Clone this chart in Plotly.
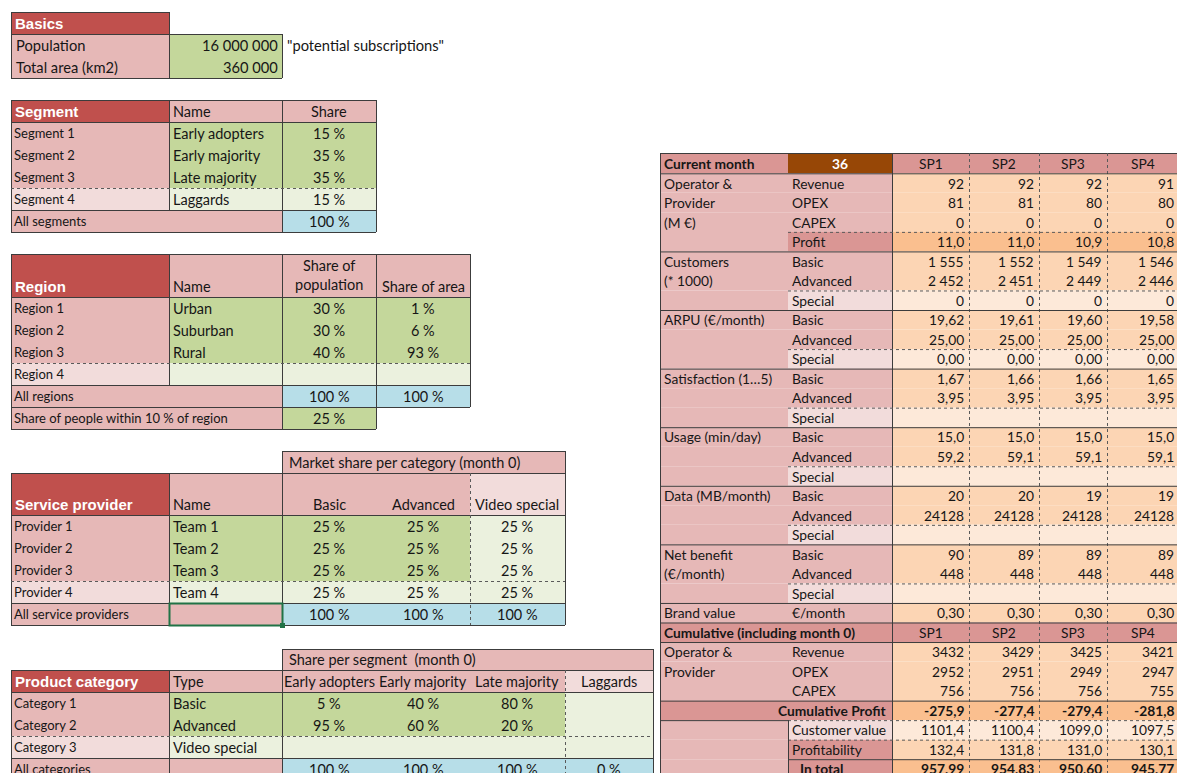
import plotly.graph_objects as go

# ---------------- DATA ----------------
basics_labels = ["Population", "Total area (km2)"]
basics_values = [16000000, 360000]
basics_note = '"potential subscriptions"'

segment_ids = ["Segment 1", "Segment 2", "Segment 3", "Segment 4"]
segment_names = ["Early adopters", "Early majority", "Late majority", "Laggards"]
segment_share = [15, 35, 35, 15]

region_ids = ["Region 1", "Region 2", "Region 3", "Region 4"]
region_names = ["Urban", "Suburban", "Rural", ""]
region_pop_share = [30, 30, 40, None]
region_area_share = [1, 6, 93, None]
share_within_10pct = 25

provider_ids = ["Provider 1", "Provider 2", "Provider 3", "Provider 4"]
provider_names = ["Team 1", "Team 2", "Team 3", "Team 4"]
ms_basic = [25, 25, 25, 25]
ms_advanced = [25, 25, 25, 25]
ms_video = [25, 25, 25, 25]
market_categories = ["Basic", "Advanced", "Video special"]

category_ids = ["Category 1", "Category 2", "Category 3"]
category_types = ["Basic", "Advanced", "Video special"]
share_early_adopters = [5, 95, None]
share_early_majority = [40, 60, None]
share_late_majority = [80, 20, None]
share_laggards = [None, None, None]

current_month = 36
sp_names = ["SP1", "SP2", "SP3", "SP4"]
revenue = [92, 92, 92, 91]
opex = [81, 81, 80, 80]
capex = [0, 0, 0, 0]
profit = [11.0, 11.0, 10.9, 10.8]
customers_basic = [1555, 1552, 1549, 1546]
customers_advanced = [2452, 2451, 2449, 2446]
customers_special = [0, 0, 0, 0]
arpu_basic = [19.62, 19.61, 19.60, 19.58]
arpu_advanced = [25.00, 25.00, 25.00, 25.00]
arpu_special = [0.00, 0.00, 0.00, 0.00]
satisfaction_basic = [1.67, 1.66, 1.66, 1.65]
satisfaction_advanced = [3.95, 3.95, 3.95, 3.95]
usage_basic = [15.0, 15.0, 15.0, 15.0]
usage_advanced = [59.2, 59.1, 59.1, 59.1]
data_basic = [20, 20, 19, 19]
data_advanced = [24128, 24128, 24128, 24128]
netbenefit_basic = [90, 89, 89, 89]
netbenefit_advanced = [448, 448, 448, 448]
brand_value = [0.30, 0.30, 0.30, 0.30]
cum_revenue = [3432, 3429, 3425, 3421]
cum_opex = [2952, 2951, 2949, 2947]
cum_capex = [756, 756, 756, 755]
cum_profit = [-275.9, -277.4, -279.4, -281.8]
customer_value = [1101.4, 1100.4, 1099.0, 1097.5]
profitability = [132.4, 131.8, 131.0, 130.1]
in_total = [957.99, 954.83, 950.60, 945.77]

# ---------------- STYLE ----------------
W, H = 1177, 773
FONT = "Lato"
HFONT = "Liberation Sans"
TXT = "#161616"
DARKRED = "#C0504D"
PINK = "#E6B8B7"
DPINK = "#DA9694"
LPINK = "#F2DCDB"
GREEN = "#C4D79B"
LGREEN = "#EBF1DE"
BLUE = "#B7DEE8"
PEACH = "#FCD5B4"
DPEACH = "#FABF8F"
LPEACH = "#FDE9D9"
BROWN = "#974706"
BORDER = "#3c3c3c"
DOT = "#5a5a5a"

shapes = []
anns = []


def rect(x0, y0, x1, y1, fill):
    shapes.append(dict(type="rect", xref="x", yref="y", x0=x0, y0=y0, x1=x1, y1=y1,
                       fillcolor=fill, line=dict(width=0), layer="below"))


def hl(x0, x1, y, dash="solid", color=None, w=1):
    shapes.append(dict(type="line", xref="x", yref="y", x0=x0, x1=x1, y0=y + 0.5, y1=y + 0.5,
                       line=dict(color=color or (BORDER if dash == "solid" else DOT), width=w, dash=dash)))


def vl(x, y0, y1, dash="solid", color=None, w=1):
    shapes.append(dict(type="line", xref="x", yref="y", x0=x + 0.5, x1=x + 0.5, y0=y0, y1=y1,
                       line=dict(color=color or (BORDER if dash == "solid" else DOT), width=w, dash=dash)))


def box(x0, y0, x1, y1):
    hl(x0, x1, y0)
    hl(x0, x1, y1)
    vl(x0, y0, y1)
    vl(x1, y0, y1)


def txt(x, y, s, align="left", size=13, bold=False, color=TXT, yanchor="middle", family=FONT):
    if s is None or s == "":
        return
    if bold:
        s = "<b>" + s + "</b>"
    anns.append(dict(x=x, y=y, xref="x", yref="y", text=s, showarrow=False,
                     xanchor=align, yanchor=yanchor, align=align,
                     font=dict(family=family, size=size, color=color)))


def head(x, y, s):
    txt(x, y, s, size=15, bold=True, color="white", family=HFONT)


def num(v, dec=0, sep=True):
    if v is None:
        return ""
    s = f"{abs(v):,.{dec}f}" if sep else f"{abs(v):.{dec}f}"
    s = s.replace(",", " ").replace(".", ",")
    return ("-" if v < 0 else "") + s


def pct(v):
    return "" if v is None else f"{v} %"


LS = 13      # small label font
NS = 14.5    # name/value font
BS = 14.7    # basics font

# ---------------- BASICS ----------------
rect(11, 12, 169, 34, DARKRED)
rect(11, 34, 169, 78, PINK)
rect(169, 34, 282, 78, GREEN)
box(11, 12, 169, 34)
box(11, 34, 282, 78)
vl(169, 34, 78)
head(13, 23, "Basics")
for i, (lab, val) in enumerate(zip(basics_labels, basics_values)):
    yc = 45 + 22 * i
    txt(14, yc, lab, size=BS)
    txt(280, yc, num(val), align="right", size=BS)
txt(285, 45, basics_note, size=BS)

# ---------------- SEGMENT ----------------
rect(11, 100, 169, 122, DARKRED)
rect(169, 100, 376, 122, PINK)
rect(11, 122, 169, 188, PINK)
rect(169, 122, 376, 188, GREEN)
rect(11, 188, 169, 210, LPINK)
rect(169, 188, 376, 210, LGREEN)
rect(11, 210, 282, 232, PINK)
rect(282, 210, 376, 232, BLUE)
box(11, 100, 376, 232)
hl(11, 376, 122)
vl(169, 100, 210)
vl(282, 100, 232)
hl(11, 376, 188, dash="dot")
hl(11, 376, 210)
head(13, 111, "Segment")
txt(171, 111, "Name", size=NS)
txt(329, 111, "Share", align="center", size=NS)
for i in range(4):
    yc = 133 + 22 * i
    txt(12, yc, segment_ids[i], size=LS)
    txt(171, yc, segment_names[i], size=NS)
    txt(329, yc, pct(segment_share[i]), align="center", size=NS)
txt(12, 221, "All segments", size=LS)
txt(329, 221, pct(sum(segment_share)), align="center", size=NS)

# ---------------- REGION ----------------
rect(11, 254, 169, 297, DARKRED)
rect(169, 254, 470, 297, PINK)
rect(11, 297, 169, 363, PINK)
rect(169, 297, 470, 363, GREEN)
rect(11, 363, 169, 385, LPINK)
rect(169, 363, 470, 385, LGREEN)
rect(11, 385, 282, 407, PINK)
rect(282, 385, 470, 407, BLUE)
rect(11, 407, 282, 429, PINK)
rect(282, 407, 376, 429, GREEN)
box(11, 254, 470, 407)
hl(11, 470, 297)
vl(169, 254, 385)
vl(282, 254, 429)
vl(376, 254, 407)
hl(11, 470, 363, dash="dot")
hl(11, 470, 385)
box(11, 407, 376, 429)
head(13, 286, "Region")
txt(171, 286, "Name", size=NS)
txt(329, 275, "Share of<br>population", align="center", size=NS)
txt(423, 286, "Share of area", align="center", size=NS)
for i in range(4):
    yc = 308 + 22 * i
    txt(12, yc, region_ids[i], size=LS)
    txt(171, yc, region_names[i], size=NS)
    txt(329, yc, pct(region_pop_share[i]), align="center", size=NS)
    txt(423, yc, pct(region_area_share[i]), align="center", size=NS)
txt(12, 396, "All regions", size=LS)
txt(329, 396, pct(sum(v for v in region_pop_share if v)), align="center", size=NS)
txt(423, 396, pct(sum(v for v in region_area_share if v)), align="center", size=NS)
txt(12, 418, "Share of people within 10 % of region", size=LS)
txt(329, 418, pct(share_within_10pct), align="center", size=NS)

# ---------------- SERVICE PROVIDER ----------------
rect(282, 451, 565, 473, PINK)
rect(11, 473, 169, 515, DARKRED)
rect(169, 473, 470, 515, PINK)
rect(470, 473, 565, 515, LPINK)
rect(11, 515, 169, 581, PINK)
rect(169, 515, 470, 581, GREEN)
rect(470, 515, 565, 581, LGREEN)
rect(11, 581, 169, 603, LPINK)
rect(169, 581, 565, 603, LGREEN)
rect(11, 603, 282, 625, PINK)
rect(282, 603, 565, 625, BLUE)
hl(282, 565, 451)
vl(565, 451, 473)
box(11, 473, 565, 625)
hl(11, 565, 515)
vl(169, 473, 625)
vl(282, 451, 625)
vl(470, 473, 625, dash="dot")
hl(11, 565, 581, dash="dot")
hl(11, 565, 603)
shapes.append(dict(type="rect", xref="x", yref="y", x0=169.5, y0=603.5, x1=282.5, y1=625.5,
                   fillcolor="rgba(0,0,0,0)", line=dict(color="#217346", width=2)))
shapes.append(dict(type="rect", xref="x", yref="y", x0=280, y0=623, x1=285, y1=628,
                   fillcolor="#217346", line=dict(width=0)))
txt(287, 462, "Market share per category (month 0)", size=NS)
head(13, 504, "Service provider")
txt(171, 504, "Name", size=NS)
for cx, c in zip([329, 423, 517], market_categories):
    txt(cx, 504, c, align="center", size=NS)
ms_cols = [ms_basic, ms_advanced, ms_video]
for i in range(4):
    yc = 526 + 22 * i
    txt(12, yc, provider_ids[i], size=LS)
    txt(171, yc, provider_names[i], size=NS)
    for cx, col in zip([329, 423, 517], ms_cols):
        txt(cx, yc, pct(col[i]), align="center", size=NS)
txt(12, 614, "All service providers", size=LS)
for cx, col in zip([329, 423, 517], ms_cols):
    txt(cx, 614, pct(sum(col)), align="center", size=NS)

# ---------------- PRODUCT CATEGORY ----------------
rect(282, 649, 653, 670, PINK)
rect(11, 670, 169, 692, DARKRED)
rect(169, 670, 565, 692, PINK)
rect(565, 670, 653, 692, LPINK)
rect(11, 692, 169, 736, PINK)
rect(169, 692, 565, 736, GREEN)
rect(565, 692, 653, 736, LGREEN)
rect(11, 736, 169, 758, LPINK)
rect(169, 736, 653, 758, LGREEN)
rect(11, 758, 282, 780, PINK)
rect(282, 758, 653, 780, BLUE)
hl(282, 653, 649)
vl(653, 649, 670)
box(11, 670, 653, 780)
hl(11, 653, 692)
vl(169, 670, 780)
vl(282, 649, 780)
vl(565, 670, 780, dash="dot")
hl(11, 653, 736, dash="dot")
hl(11, 653, 758)
txt(287, 659, "Share per segment  (month 0)", size=NS)
head(13, 681, "Product category")
txt(171, 681, "Type", size=NS)
seg_cx = [329, 423, 517, 609]
for cx, s in zip(seg_cx, segment_names):
    txt(cx, 681, s, align="center", size=NS)
share_cols = [share_early_adopters, share_early_majority, share_late_majority, share_laggards]
for i in range(3):
    yc = 703 + 22 * i
    txt(12, yc, category_ids[i], size=LS)
    txt(171, yc, category_types[i], size=NS)
    for cx, col in zip(seg_cx, share_cols):
        txt(cx, yc, pct(col[i]), align="center", size=NS)
txt(12, 769, "All categories", size=LS)
for cx, col in zip(seg_cx, share_cols):
    txt(cx, 769, pct(sum(v for v in col if v)), align="center", size=NS)

# ---------------- RIGHT TABLE ----------------
RX = [660, 788, 892, 969, 1039, 1107, 1179]
RY0, RY1 = 153, 173.3
RH = 19.53
RS = 13.8


def ry(i):  # top of data row i (1-based)
    return RY1 + (i - 1) * RH


rows = [
    ("Operator &", "Revenue", revenue, 0, False, "n"),
    ("Provider", "OPEX", opex, 0, False, "n"),
    ("(M €)", "CAPEX", capex, 0, False, "n"),
    ("", "Profit", profit, 1, False, "profit"),
    ("Customers", "Basic", customers_basic, 0, True, "n"),
    ("(* 1000)", "Advanced", customers_advanced, 0, True, "n"),
    ("", "Special", customers_special, 0, True, "special"),
    ("ARPU (€/month)", "Basic", arpu_basic, 2, True, "n"),
    ("", "Advanced", arpu_advanced, 2, True, "n"),
    ("", "Special", arpu_special, 2, True, "special"),
    ("Satisfaction (1…5)", "Basic", satisfaction_basic, 2, True, "n"),
    ("", "Advanced", satisfaction_advanced, 2, True, "n"),
    ("", "Special", None, 0, True, "special"),
    ("Usage (min/day)", "Basic", usage_basic, 1, True, "n"),
    ("", "Advanced", usage_advanced, 1, True, "n"),
    ("", "Special", None, 0, True, "special"),
    ("Data (MB/month)", "Basic", data_basic, 0, False, "n"),
    ("", "Advanced", data_advanced, 0, False, "n"),
    ("", "Special", None, 0, True, "special"),
    ("Net benefit", "Basic", netbenefit_basic, 0, True, "n"),
    ("(€/month)", "Advanced", netbenefit_advanced, 0, True, "n"),
    ("", "Special", None, 0, True, "special"),
    ("Brand value", "€/month", brand_value, 2, True, "n"),
    ("Cumulative (including month 0)", "", sp_names, 0, True, "header"),
    ("Operator &", "Revenue", cum_revenue, 0, False, "n"),
    ("Provider", "OPEX", cum_opex, 0, False, "n"),
    ("", "CAPEX", cum_capex, 0, False, "n"),
    ("Cumulative Profit", "", cum_profit, 1, True, "cumprofit"),
    ("", "Customer value", customer_value, 1, False, "custval"),
    ("", "Profitability", profitability, 1, False, "profitab"),
    ("", "In total", in_total, 2, False, "intotal"),
]
NR = len(rows)
YB = ry(NR + 1)

rect(RX[0], RY0, RX[1], RY1, DPINK)
rect(RX[1], RY0, RX[2], RY1, BROWN)
rect(RX[2], RY0, RX[6], RY1, DPINK)
txt(662, (RY0 + RY1) / 2, "Current month", size=RS, bold=True)
txt((RX[1] + RX[2]) / 2, (RY0 + RY1) / 2, str(current_month), align="center", size=RS, bold=True, color="white")
for j, s in enumerate(sp_names):
    txt((RX[2 + j] + RX[3 + j]) / 2, (RY0 + RY1) / 2, s, align="center", size=RS)

fills = {
    "n": (PINK, PEACH), "profit": (DPINK, DPEACH), "special": (LPINK, LPEACH),
    "header": (DPINK, DPINK), "cumprofit": (DPINK, DPEACH), "custval": (LPINK, LPEACH),
    "profitab": (DPINK, PEACH), "intotal": (DPINK, DPEACH),
}
for i, (lab, sub, vals, dec, sep, kind) in enumerate(rows, start=1):
    y0, y1 = ry(i), ry(i + 1)
    yc = (y0 + y1) / 2
    subfill, valfill = fills[kind]
    if kind in ("header", "cumprofit"):
        rect(RX[0], y0, RX[2], y1, DPINK)
    else:
        rect(RX[0], y0, RX[1], y1, PINK)
        rect(RX[1], y0, RX[2], y1, subfill)
    rect(RX[2], y0, RX[6], y1, valfill)
    bold = kind in ("cumprofit", "intotal")
    if kind == "header":
        txt(662, yc, lab, size=RS, bold=True)
        for j, s in enumerate(vals):
            txt((RX[2 + j] + RX[3 + j]) / 2, yc, s, align="center", size=RS)
        continue
    if kind == "cumprofit":
        txt(RX[2] - 3, yc, lab, align="right", size=RS, bold=True)
    else:
        txt(662, yc, lab, size=RS)
    txt(790 + (8 if kind == "intotal" else 0), yc, sub, size=RS, bold=bold)
    if vals is not None:
        for j, v in enumerate(vals):
            txt(RX[3 + j] - 3, yc, num(v, dec, sep), align="right", size=RS, bold=bold)

hl(RX[0], RX[6], RY0)
vl(RX[0], RY0, YB)
vl(RX[2], RY0, YB)
for x in RX[3:6]:
    vl(x, RY0, YB, dash="dot")
hl(RX[0], RX[6], RY1)
for i in [4, 7, 10, 13, 16, 19, 22, 23, 24, 27]:
    hl(RX[0], RX[6], ry(i + 1))
for i in [4, 7, 10, 13, 16, 19, 22]:
    hl(RX[1], RX[6], ry(i), dash="dot")
hl(RX[0], RX[1], ry(29))
hl(RX[1], RX[6], ry(29), dash="dot")
hl(RX[1], RX[6], ry(30), dash="dot")
hl(RX[1], RX[6], ry(31))
vl(RX[1], ry(29), YB)

fig = go.Figure()
fig.update_layout(
    width=W, height=H, autosize=False,
    margin=dict(l=0, r=0, t=0, b=0),
    paper_bgcolor="white", plot_bgcolor="white",
    xaxis=dict(range=[0, W], visible=False, fixedrange=True),
    yaxis=dict(range=[H, 0], visible=False, fixedrange=True),
    shapes=shapes, annotations=anns,
    font=dict(family=FONT, color=TXT),
    showlegend=False,
)
fig.write_html(
    "out.html",
    config={"displayModeBar": False},
    post_script="document.body.style.margin='0';document.body.style.overflow='hidden';",
)
